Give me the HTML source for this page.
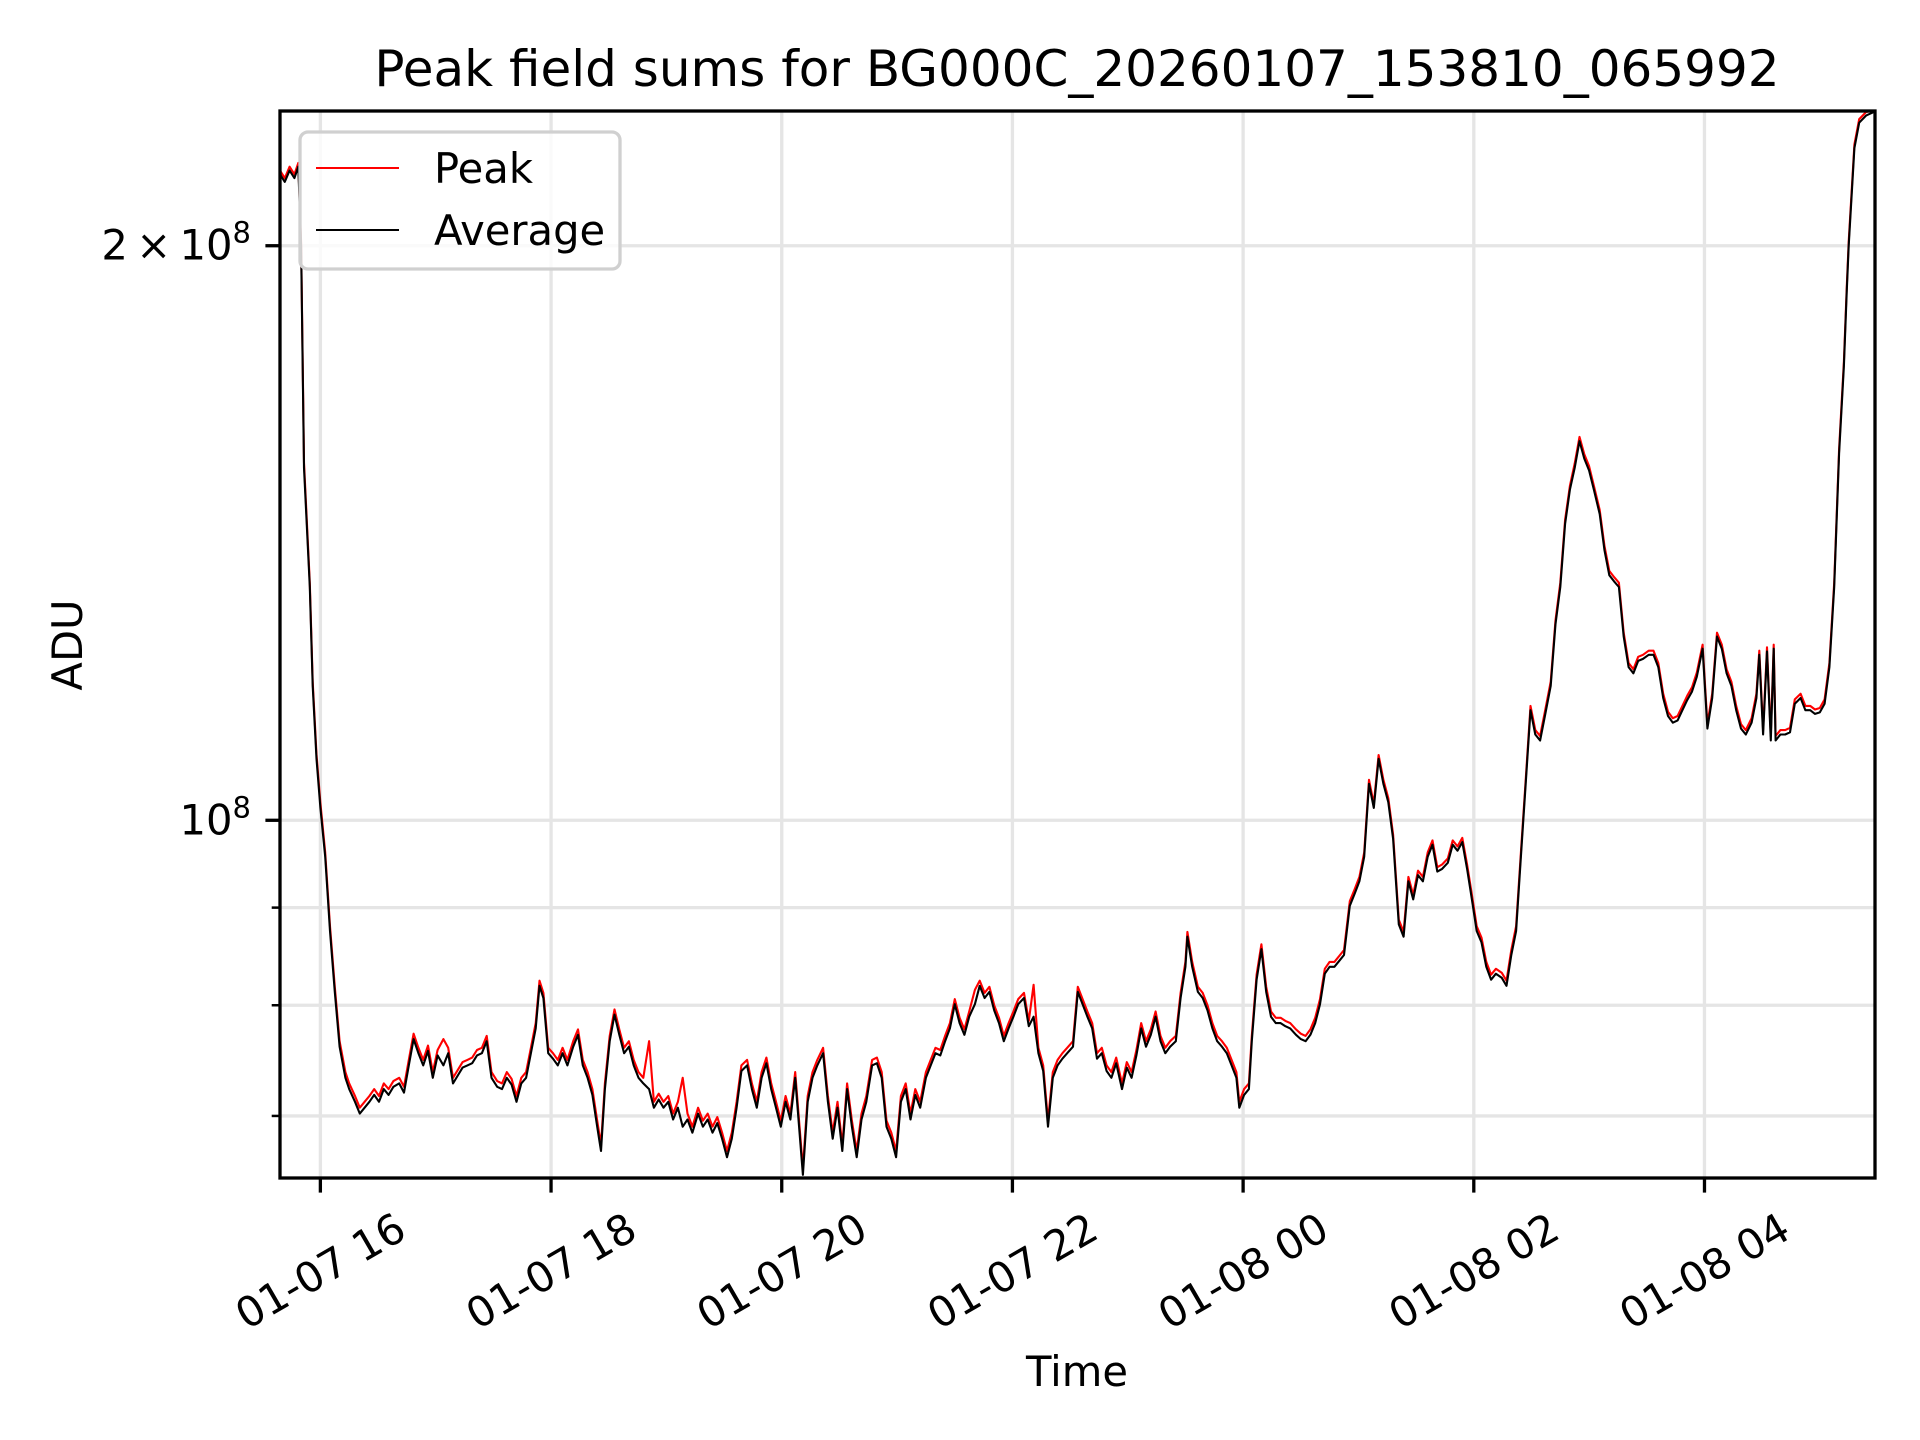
<!DOCTYPE html>
<html><head><meta charset="utf-8"><title>Peak field sums</title>
<style>
html,body{margin:0;padding:0;background:#fff;}
svg{display:block;font-family:"DejaVu Sans","Liberation Sans",sans-serif;}
</style></head>
<body>
<svg id="chart" width="1920" height="1440" viewBox="0 0 1920 1440" xmlns="http://www.w3.org/2000/svg">
<rect width="1920" height="1440" fill="#fff"/>
<text x="1077" y="86" font-size="50" text-anchor="middle">Peak field sums for BG000C_20260107_153810_065992</text>
<g id="grid"></g>
<g id="series"></g>
<rect x="280" y="111" width="1595" height="1067" fill="none" stroke="#000" stroke-width="3.3"/>
<g id="axes"></g>
<text x="1077" y="1386" font-size="41.7" text-anchor="middle">Time</text>
<text transform="translate(82,645) rotate(-90)" font-size="41.7" text-anchor="middle">ADU</text>
<g>
<rect x="300" y="132" width="320" height="137" rx="8" fill="#fff" fill-opacity="0.8" stroke="#d0d0d0" stroke-width="3.3"/>
<line x1="316" y1="168" x2="399" y2="168" stroke="#ff0000" stroke-width="2"/>
<text x="434" y="183" font-size="41.7">Peak</text>
<line x1="316" y1="230" x2="399" y2="230" stroke="#000" stroke-width="2"/>
<text x="434" y="245" font-size="41.7">Average</text>
</g>
</svg>
<script>
// time in minutes relative to 01-07 16:00; values in units of 1e6 ADU
const timeMin = [
-21,-18.5,-16,-13.5,-11.5,-10,-8.5,-5.5,-4,-2,
0,2.5,5,7.5,10,13,15,18,20.5,23,
25.5,28,30.5,33,35.5,38,41,43.5,46,48.5,
51,53.5,56,58.5,61,64,66.5,69,71.5,74,
76.5,79,81.5,84,86.5,89,92,94.5,97,99.5,
102,104.5,107,109.5,112,114,116,118.5,121,123.5,
126,128.5,131.5,134,136.5,139,141.5,144,146,148,
150.5,153,155.5,158,160.5,163,165.5,168,171,173.5,
176,178.5,181,183.5,186,188.5,191,193.5,196.5,199,
201.5,204,206.5,209,211.5,214,216.5,219,222,224.5,
227,229.5,232,234.5,237,239.5,242,244.5,247,250,
251,253.5,256,258.5,261.5,264,266.5,269,271.5,274,
276.5,279,281.5,284,287,289.5,292,294.5,297,299.5,
302,304.5,307,309.5,312,315,317.5,320,322.5,325,
327.5,330,332.5,335,337.5,340.5,343,345.5,348,350.5,
353,355.5,358,360.5,363,366,368.5,371,373.5,376,
378.5,381,383.5,386,388.5,391.5,394,396.5,399,401.5,
404,406.5,409,411.5,414,417,419.5,422,424.5,427,
429.5,432,434.5,437,439.5,442,445,447.5,450,451,
453.5,456.5,459,461.5,464,466.5,469,471.5,474,476.5,
478,480.5,483,484.5,487,489.5,492,494.5,497,499.5,
502,504.5,507.5,510,512.5,515,517.5,520,522.5,525,
527.5,530,532.5,535.5,538,540.5,543,545.5,548,550.5,
553,555.5,558,561,563.5,566,568.5,571,573.5,576,
578.5,581,583.5,586.5,589,591.5,594,596.5,599,601.5,
604,606.5,609,611.5,614.5,617,619.5,622,624.5,627,
629.5,632,634.5,637,640,642.5,645,647.5,650,652.5,
655,657.5,660,662.5,665.5,668,670.5,673,675.5,678,
680.5,683,685.5,688,691,693.5,696,698.5,701,703.5,
706,708.5,711,713.5,716,719,721.5,724,726.5,729,
731.5,734,736.5,739,741.5,744.5,747,748.5,750.5,752.5,
754.5,756,757,759.5,762,764.5,767,770,772.5,775,
777.5,780,782.5,785,787.5,790,792.5,794,795,798,
800.5,804,808
];
const averageVals = [
218,216,219,217,220,200,153,132.5,117.6,107.7,
101.5,95.7,87.5,81.3,76.1,73.3,72.3,71.2,70.2,70.7,
71.2,71.8,71.2,72.3,71.8,72.5,72.8,72.0,74.4,76.8,
75.5,74.4,75.7,73.3,75.3,74.4,75.5,72.8,73.5,74.2,
74.4,74.6,75.3,75.5,76.6,73.3,72.5,72.3,73.3,72.7,
71.2,72.8,73.3,75.5,77.8,81.9,80.7,75.5,75.0,74.4,
75.5,74.4,76.1,77.2,74.4,73.3,71.8,69.1,67.1,72.3,
76.6,79.1,77.2,75.5,76.1,74.4,73.3,72.8,72.3,70.7,
71.4,70.7,71.2,69.7,70.7,69.1,69.7,68.6,70.2,69.1,
69.7,68.6,69.4,68.1,66.6,68.1,70.7,73.9,74.4,72.3,
70.7,73.3,74.6,72.3,70.7,69.1,71.2,69.7,73.3,67.1,
65.2,71.2,73.3,74.4,75.5,71.2,68.1,70.7,67.1,72.3,
69.1,66.6,69.7,71.2,74.4,74.6,73.3,69.1,68.1,66.6,
71.2,72.3,69.7,71.8,70.7,73.3,74.4,75.5,75.3,76.6,
77.8,80.1,78.3,77.2,78.9,80.1,81.9,80.7,81.3,79.5,
78.3,76.6,77.8,78.9,80.1,80.7,78.0,78.9,75.5,73.9,
69.1,73.3,74.4,75.0,75.5,76.1,81.3,80.1,78.9,77.8,
75.0,75.5,73.9,73.3,74.6,72.3,74.2,73.3,75.3,77.8,
76.1,77.2,78.9,76.6,75.5,76.1,76.6,80.7,83.8,86.9,
83.8,81.3,80.7,79.5,77.8,76.6,76.1,75.5,74.4,73.3,
70.7,71.8,72.3,76.6,82.5,85.6,81.3,78.9,78.3,78.3,
78.0,77.8,77.2,76.8,76.6,77.2,78.3,80.1,83.1,83.8,
83.8,84.4,85.0,90.2,91.5,92.9,95.7,104.5,101.5,107.7,
104.5,102.2,97.8,88.2,86.9,92.9,90.9,93.6,92.9,95.7,
97.1,94.0,94.3,95.0,97.1,96.4,97.4,94.3,90.9,87.5,
86.3,83.8,82.5,83.1,82.7,81.9,85.0,87.5,95.7,104.5,
114.2,110.9,110.1,113.4,117.6,126.7,132.5,143,149,153,
158,154.7,152.5,149,144.7,138.5,134.4,133.4,132.5,124.8,
120.3,119.4,121.2,121.5,122.1,122.1,120.3,115.9,113.4,112.5,
112.8,114.2,115.6,116.8,118.9,123,111.7,115.9,124.8,123,
119.4,117.6,114.2,111.7,110.9,112.5,115.9,122.1,110.9,122.6,
110.1,123,110.1,110.9,110.9,111.2,115.1,115.9,114.2,114.2,
113.7,113.9,115.1,120.3,132.5,155.7,173,189,200,225,
232,234,235
];
const peakVals = [
219,217,220,218,221,201,154,133.2,118.2,108.3,
102.1,96.2,88.0,81.8,76.6,73.8,72.8,71.7,70.7,71.2,
71.7,72.3,71.7,72.8,72.3,73.0,73.3,72.5,74.9,77.3,
76.0,74.9,76.2,73.8,75.8,76.8,76.0,73.3,74.0,74.7,
74.9,75.1,75.8,76.0,77.1,73.8,73.0,72.8,73.8,73.2,
71.7,73.3,73.8,76.0,78.3,82.4,81.2,76.0,75.5,74.9,
76.0,74.9,76.6,77.7,74.9,73.8,72.3,69.6,67.6,72.8,
77.1,79.6,77.7,76.0,76.6,74.9,73.8,73.3,76.6,71.2,
71.9,71.2,71.7,70.2,71.2,73.3,70.2,69.1,70.7,69.6,
70.2,69.1,69.9,68.6,67.1,68.6,71.2,74.4,74.9,72.8,
71.2,73.8,75.1,72.8,71.2,69.6,71.7,70.2,73.8,67.6,
65.7,71.7,73.8,74.9,76.0,71.7,68.6,71.2,67.6,72.8,
69.6,67.1,70.2,71.7,74.9,75.1,73.8,69.6,68.6,67.1,
71.7,72.8,70.2,72.3,71.2,73.8,74.9,76.0,75.8,77.1,
78.3,80.6,78.8,77.7,79.4,81.5,82.4,81.2,81.8,80.0,
78.8,77.1,78.3,79.4,80.6,81.2,78.5,82.0,76.0,74.4,
69.6,73.8,74.9,75.5,76.0,76.6,81.8,80.6,79.4,78.3,
75.5,76.0,74.4,73.8,75.1,72.8,74.7,73.8,75.8,78.3,
76.6,77.7,79.4,77.1,76.0,76.6,77.1,81.2,84.3,87.4,
84.3,81.8,81.2,80.0,78.3,77.1,76.6,76.0,74.9,73.8,
71.2,72.3,72.8,77.1,83.0,86.1,81.8,79.4,78.8,78.8,
78.5,78.3,77.7,77.3,77.1,77.7,78.8,80.6,83.6,84.3,
84.3,84.9,85.5,90.7,92.0,93.4,96.2,105.0,102.0,108.2,
105.0,102.7,98.3,88.7,87.4,93.4,91.4,94.1,93.4,96.2,
97.6,94.5,94.8,95.5,97.6,96.9,97.9,94.8,91.4,88.0,
86.8,84.3,83.0,83.6,83.2,82.4,85.5,88.0,96.2,105.0,
114.8,111.5,110.7,114.0,118.2,127.3,133.2,143.7,149.7,153.8,
158.8,155.5,153.3,149.7,145.4,139.2,135.1,134.1,133.2,125.4,
120.9,120.0,121.8,122.1,122.7,122.7,120.9,116.5,114.0,113.1,
113.4,114.8,116.2,117.4,119.5,123.6,112.3,116.5,125.4,123.6,
120.0,118.2,114.8,112.3,111.5,113.1,116.5,122.7,111.5,123.2,
110.7,123.6,110.7,111.5,111.5,111.8,115.7,116.5,114.8,114.8,
114.3,114.5,115.7,120.9,133.2,156.5,173.9,190,201,226,
233,235,235.5
];
const xTickMin = [0,120,240,360,480,600,720];
const xTickLabels = ["01-07 16","01-07 18","01-07 20","01-07 22","01-08 00","01-08 02","01-08 04"];
const yMajorVals = [100,200];
const yMinorVals = [70,80,90];

const NS = "http://www.w3.org/2000/svg";
const L = 280, R = 1875, T = 111, B = 1178;
const X0 = -21, X1 = 808.7, Y0 = 64.95, Y1 = 235.3;
function xs(m){ return L + (m - X0) / (X1 - X0) * (R - L); }
function ys(v){ return B - (Math.log(v) - Math.log(Y0)) / (Math.log(Y1) - Math.log(Y0)) * (B - T); }
function mk(tag, attrs, parent){
  const e = document.createElementNS(NS, tag);
  for (const k in attrs) e.setAttribute(k, attrs[k]);
  parent.appendChild(e);
  return e;
}
const grid = document.getElementById('grid');
const axes = document.getElementById('axes');
const series = document.getElementById('series');

xTickMin.forEach((m, i) => {
  const x = xs(m);
  const g = mk('line', {x1:x, y1:T, x2:x, y2:B, stroke:'#e5e5e5', 'stroke-width':3.3}, grid);
  
  
  const t = mk('line', {x1:x, y1:B, x2:x, y2:B+14.6, stroke:'#000', 'stroke-width':3.3}, axes);
  
  
  const lb = mk('text', {x:x, y:1271, 'font-size':41.7, 'text-anchor':'middle', 'dominant-baseline':'central', transform:'rotate(-30,'+x+',1271)'}, axes);
  lb.textContent = xTickLabels[i];
  
  
});
yMinorVals.concat(yMajorVals).forEach(v => {
  const y = ys(v);
  const g = mk('line', {x1:L, y1:y, x2:R, y2:y, stroke:'#e5e5e5', 'stroke-width':3.3}, grid);
  
  
});
yMinorVals.forEach(v => {
  const y = ys(v);
  const t = mk('line', {x1:L-8.3, y1:y, x2:L, y2:y, stroke:'#000', 'stroke-width':2.5}, axes);
  
  
});
yMajorVals.forEach(v => {
  const y = ys(v);
  const t = mk('line', {x1:L-14.6, y1:y, x2:L, y2:y, stroke:'#000', 'stroke-width':3.3}, axes);
  
  
  const lb = mk('text', {x:251, y:y+14, 'font-size':41.7, 'text-anchor':'end'}, axes);
  const mant = v / 100;
  if (mant === 1) {
    lb.innerHTML = '10<tspan font-size="29" dy="-17">8</tspan>';
  } else {
    lb.innerHTML = mant + '\u2009\u00d7\u200910<tspan font-size="29" dy="-17">8</tspan>';
  }
  
  
});

function path(vals){
  const n = Math.min(timeMin.length, vals.length);
  let d = '';
  for (let i = 0; i < n; i++) d += (i ? 'L' : 'M') + xs(timeMin[i]).toFixed(1) + ' ' + ys(vals[i]).toFixed(1);
  return d;
}
const clip = mk('clipPath', {id:'pc'}, series);
mk('rect', {x:L, y:T, width:R-L, height:B-T}, clip);
const pk = mk('path', {d:path(peakVals), fill:'none', stroke:'#ff0000', 'stroke-width':2.1, 'stroke-linejoin':'round', 'clip-path':'url(#pc)'}, series);


const av = mk('path', {d:path(averageVals), fill:'none', stroke:'#000', 'stroke-width':2.1, 'stroke-linejoin':'round', 'clip-path':'url(#pc)'}, series);


</script>
</body></html>
